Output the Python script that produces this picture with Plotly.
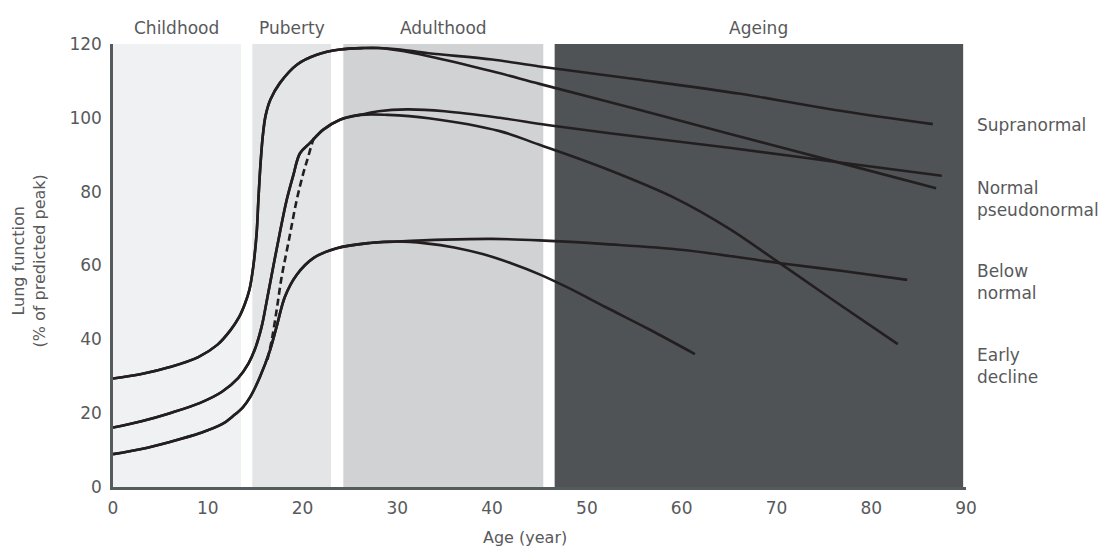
import plotly.graph_objects as go

# ---- phases (background bands) ----
phase_names = ["Childhood", "Puberty", "Adulthood", "Ageing"]
phase_start = [0, 14.7, 24.3, 46.6]
phase_end = [13.5, 23.0, 45.4, 89.7]
phase_colors = ["#f0f1f3", "#e4e5e7", "#d1d2d4", "#505355"]

# ---- curves (age, % of predicted peak) ----
high_x = [0, 3, 6, 9, 11, 12.4, 13.3, 13.9, 14.4, 14.8, 15.16, 15.34, 15.55, 15.8, 16.1, 16.6, 17.6, 19.4, 21.5, 23.95, 26.5, 28]
high_y = [29.4, 30.6, 32.5, 35.2, 38.5, 42.5, 46, 49.5, 53.5, 59.7, 68.9, 77.8, 87, 95, 100.6, 104.9, 109.4, 114.4, 117.1, 118.5, 118.9, 118.9]
supra_x = [30, 33.3, 40, 45, 55, 66.2, 76, 86.5]
supra_y = [118.6, 117.5, 115.8, 113.9, 110.5, 106.5, 102.2, 98.3]
pseudo_x = [30, 33.3, 40, 45, 55, 65, 76.7, 86.85]
pseudo_y = [118.3, 116.7, 112.6, 109.2, 102.5, 95.7, 87.8, 80.9]

norm_x = [0, 3, 6, 9.2, 11.5, 13.2, 14.3, 15.0, 15.69, 16.3, 17.27, 18.33, 19.03, 19.73, 20.79, 22.19, 23.95, 26.07]
norm_y = [16.1, 17.8, 20, 22.8, 25.8, 29.5, 33.5, 37.5, 43.5, 51.5, 64.5, 77.8, 84.5, 90.4, 93.2, 96.8, 99.5, 100.8]
normal_x = [28, 31, 35, 40.8, 46, 55, 65, 76.7, 87.45]
normal_y = [101.8, 102.3, 101.8, 100.0, 98.0, 95.0, 91.9, 87.9, 84.3]
norm_decl_x = [29, 33.3, 40.8, 45, 52, 59.5, 65, 70.2, 76, 82.8]
norm_decl_y = [100.8, 99.9, 96.4, 92.7, 86.2, 78.0, 70.0, 60.9, 50.6, 38.7]

low_x = [0, 3, 6, 9.2, 11.5, 12.7, 13.7, 14.5, 15.5, 16.57, 17.27, 18.15, 19.39, 21.14, 23.6, 27.1, 30]
low_y = [8.9, 10.3, 12.2, 14.6, 17.0, 19.3, 21.6, 24.5, 29.8, 37.1, 43.5, 51.6, 57.5, 62, 64.7, 66.1, 66.5]
below_x = [35, 40, 45, 52, 60.2, 70.2, 77, 83.8]
below_y = [67.0, 67.2, 66.8, 65.8, 64.2, 60.7, 58.5, 56.1]
low_decl_x = [33, 36, 39, 42, 45, 48, 52, 56.5, 61.4]
low_decl_y = [66.0, 64.9, 63.1, 60.6, 57.6, 54.0, 48.7, 42.8, 36.0]

catch_x = [16.3, 16.75, 17.27, 17.8, 18.5, 19.39, 20.08, 20.6, 21.14, 21.4]
catch_y = [34.5, 39.8, 48.0, 57.0, 66.1, 77.8, 85.0, 89.5, 94.1, 95.3]

# ---- labels ----
end_labels = ["Supranormal", "Normal<br>pseudonormal", "Below<br>normal", "Early<br>decline"]
end_label_y = [98.1, 78.1, 55.4, 32.7]
x_ticks = [0, 10, 20, 30, 40, 50, 60, 70, 80, 90]
y_ticks = [0, 20, 40, 60, 80, 100, 120]

X_MAX = 90
Y_MAX = 120
FONT = "DejaVu Sans"
FS = 17
TXT = "#58595b"
LINE = "#231f20"

fig = go.Figure()

paths = [
    (high_x + supra_x, high_y + supra_y),
    (high_x + pseudo_x, high_y + pseudo_y),
    (norm_x + normal_x, norm_y + normal_y),
    (norm_x + norm_decl_x, norm_y + norm_decl_y),
    (low_x + below_x, low_y + below_y),
    (low_x + low_decl_x, low_y + low_decl_y),
]
for px, py in paths:
    fig.add_trace(go.Scatter(x=px, y=py, mode="lines",
                             line=dict(color=LINE, width=2.6, shape="spline", smoothing=1.0),
                             hoverinfo="skip", showlegend=False))
fig.add_trace(go.Scatter(x=catch_x, y=catch_y, mode="lines",
                         line=dict(color=LINE, width=2.6, dash="7px,4px", shape="spline", smoothing=1.0),
                         hoverinfo="skip", showlegend=False))

shapes = []
for s, e, c in zip(phase_start, phase_end, phase_colors):
    shapes.append(dict(type="rect", xref="x", yref="y", x0=s, x1=e, y0=0, y1=Y_MAX,
                       fillcolor=c, line=dict(width=0), layer="below"))

annotations = []
for name, s, e in zip(phase_names, phase_start, phase_end):
    annotations.append(dict(x=(s + e) / 2 / X_MAX, y=1.037, xref="paper", yref="paper", text=name,
                            showarrow=False, font=dict(family=FONT, size=FS, color=TXT),
                            xanchor="center", yanchor="middle"))
for lab, yy in zip(end_labels, end_label_y):
    annotations.append(dict(x=1.0108, y=yy / Y_MAX, xref="paper", yref="paper", text=lab, align="left",
                            showarrow=False, font=dict(family=FONT, size=FS, color=TXT),
                            xanchor="left", yanchor="middle"))
annotations.append(dict(x=-0.098, y=0.51, xref="paper", yref="paper",
                        text="Lung function<br>(% of predicted peak)", textangle=-90,
                        showarrow=False, font=dict(family=FONT, size=16, color=TXT),
                        xanchor="center", yanchor="middle"))
annotations.append(dict(x=43.5 / X_MAX, y=-0.113, xref="paper", yref="paper", text="Age (year)",
                        showarrow=False, font=dict(family=FONT, size=16, color=TXT),
                        xanchor="center", yanchor="middle"))

fig.update_layout(
    width=1100, height=539,
    margin=dict(l=105, r=142, t=36, b=60),
    paper_bgcolor="white", plot_bgcolor="white",
    shapes=shapes, annotations=annotations,
    showlegend=False,
    xaxis=dict(range=[0, X_MAX], tickvals=x_ticks, showgrid=False, zeroline=False,
               showline=True, linecolor="#555a5c", linewidth=2.5, ticks="",
               tickfont=dict(family=FONT, size=FS, color=TXT), ticklabelstandoff=4),
    yaxis=dict(range=[0, Y_MAX], tickvals=y_ticks, showgrid=False, zeroline=False,
               showline=True, linecolor="#555a5c", linewidth=2.5, ticks="",
               tickfont=dict(family=FONT, size=FS, color=TXT), ticklabelstandoff=5),
)

fig.write_html("out.html")
